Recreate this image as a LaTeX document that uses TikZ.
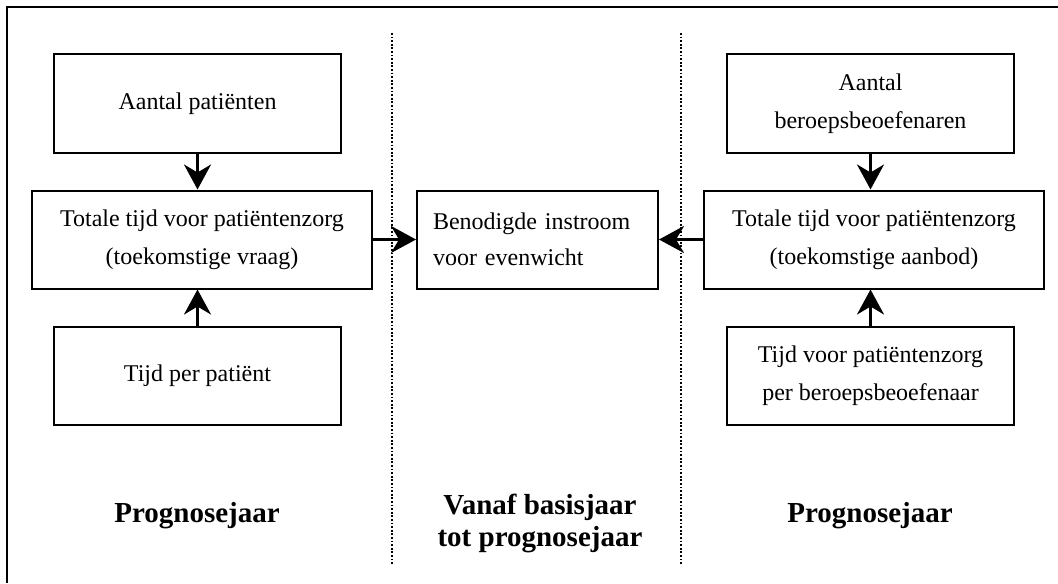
\documentclass[tikz,border=0pt]{standalone}
\usepackage{fontspec}
\setmainfont{Liberation Serif}
\usetikzlibrary{arrows.meta,positioning}

\begin{document}
\begin{tikzpicture}[x=0.5pt,y=-0.5pt,
		box/.style={draw,line width=1pt,minimum width=143.5pt,minimum height=49pt,align=center,font=\fontsize{12}{19}\selectfont},
		flow/.style={line width=1.5pt,-{Stealth[length=12.5pt,width=13.5pt,inset=4pt]}},
		sep/.style={line width=1.2pt,dash pattern=on 0.9pt off 0.9pt},
		jaar/.style={align=center,font=\fontsize{14.5}{16}\selectfont\bfseries}]
		\useasboundingbox (0,0) rectangle (1058,583);
		\draw[line width=1pt] (7,583) -- (7,7) -- (1058,7);
		\draw[sep] (392,33) -- (392,565);
		\draw[sep] (681,33) -- (681,565);
		% vraag
		\node[box] (patienten) at (197.5,103.5) {Aantal patiënten};
		\node[box,minimum width=170pt] (zorgvraag) at (202,239.5) {Totale tijd voor patiëntenzorg\\(toekomstige vraag)};
		\node[box] (tijdpp) at (197.5,376) {Tijd per patiënt};
		% evenwicht
		\node[box,minimum width=120.5pt,text width=104.5pt,inner xsep=8pt,align=left,font=\fontsize{12}{18}\selectfont] (instroom) at (537.5,239.5) {Benodigde instroom\\voor evenwicht};
		% aanbod
		\node[box] (beroeps) at (870.5,103.5) {Aantal\\beroepsbeoefenaren};
		\node[box,minimum width=170pt] (zorgaanbod) at (874,239.5) {Totale tijd voor patiëntenzorg\\(toekomstige aanbod)};
		\node[box] (tijdpb) at (870.5,376) {Tijd voor patiëntenzorg\\per beroepsbeoefenaar};
		\draw[flow] (patienten.south) -- (patienten.south |- zorgvraag.north);
		\draw[flow] (tijdpp.north) -- (tijdpp.north |- zorgvraag.south);
		\draw[flow] (zorgvraag.east) -- (instroom.west);
		\draw[flow] (beroeps.south) -- (beroeps.south |- zorgaanbod.north);
		\draw[flow] (tijdpb.north) -- (tijdpb.north |- zorgaanbod.south);
		\draw[flow] (zorgaanbod.west) -- (instroom.east);
		\node[jaar] (jaarvraag) at (197,516) {Prognosejaar};
		\node[jaar] (periode) at (540,523) {Vanaf basisjaar\\tot prognosejaar};
		\node[jaar] (jaaraanbod) at (870,516) {Prognosejaar};
\end{tikzpicture}
\end{document}
